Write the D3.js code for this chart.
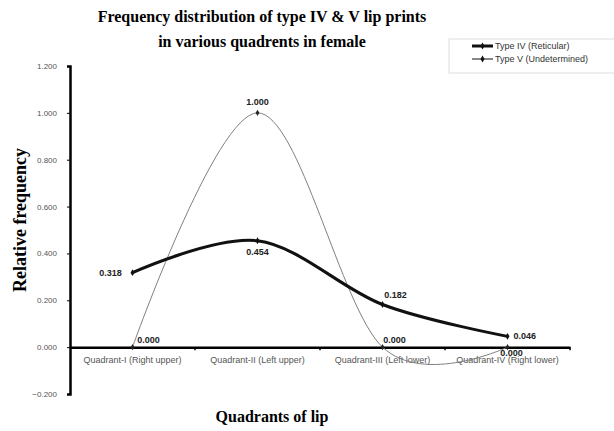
<!DOCTYPE html>
<html>
<head>
<meta charset="utf-8">
<script src="https://cdn.jsdelivr.net/npm/d3@7"></script>
<style>
body { margin: 0; background: #fff; }
</style>
</head>
<body>
<div class="chart"></div>
<script>
const width = 614;
const height = 431;

const quadrants = ['Quadrant-I (Right upper)', 'Quadrant-II (Left upper)', 'Quadrant-III (Left lower)', 'Quadrant-IV (Right lower)'];
const typeIV = [0.318, 0.454, 0.182, 0.046];
const typeV = [0.000, 1.000, 0.000, 0.000];
const yTicks = [-0.2, 0, 0.2, 0.4, 0.6, 0.8, 1.0, 1.2];
const seriesNames = ['Type IV (Reticular)', 'Type V (Undetermined)'];

const plotLeft = 70, plotRight = 570, plotTop = 66, plotBottom = 394;

const svg = d3.select('.chart')
	.append('svg')
	.attr('width', width)
	.attr('height', height)

const x = d3.scaleBand().domain(quadrants).range([plotLeft, plotRight])
const y = d3.scaleLinear().domain([-0.2, 1.2]).range([plotBottom, plotTop])

// title
svg.append('text')
	.attr('x', 262).attr('y', 22)
	.attr('text-anchor', 'middle')
	.style('font-family', 'Liberation Serif, Times New Roman, serif')
	.style('font-weight', 'bold')
	.style('font-size', '16px')
	.text('Frequency distribution of type IV & V lip prints')
svg.append('text')
	.attr('x', 262).attr('y', 47)
	.attr('text-anchor', 'middle')
	.style('font-family', 'Liberation Serif, Times New Roman, serif')
	.style('font-weight', 'bold')
	.style('font-size', '16px')
	.text('in various quadrents in female')

// y axis
const yAxis = svg.append('g')
	.attr('transform', 'translate(' + plotLeft + ',0)')
	.call(d3.axisLeft(y).tickValues(yTicks).tickFormat(d3.format('.3f')).tickSize(3).tickPadding(10))
yAxis.select('.domain').attr('stroke', '#000').attr('stroke-width', 2.5)
yAxis.selectAll('text')
	.style('font-family', 'Liberation Sans, Arial, sans-serif')
	.style('font-size', '8px')
	.attr('fill', '#555')

// x axis at zero
const xAxis = svg.append('g')
	.attr('transform', 'translate(0,' + y(0) + ')')
	.call(d3.axisBottom(x).tickSize(0).tickPadding(9))
xAxis.select('.domain').attr('stroke', '#000').attr('stroke-width', 2.5)
xAxis.selectAll('text')
	.style('font-family', 'Liberation Sans, Arial, sans-serif')
	.style('font-size', '9px')
	.attr('fill', '#555')
// category boundary ticks
const bounds = quadrants.map(q => x(q)).concat([x.range()[1]])
xAxis.selectAll('.bound')
	.data(bounds.slice(1))
	.enter()
	.append('line')
	.attr('x1', d => d).attr('x2', d => d)
	.attr('y1', 0).attr('y2', 3)
	.attr('stroke', '#000').attr('stroke-width', 1.5)

// axis titles
svg.append('text')
	.attr('transform', 'translate(26,220) rotate(-90)')
	.attr('text-anchor', 'middle')
	.style('font-family', 'Liberation Serif, Times New Roman, serif')
	.style('font-weight', 'bold')
	.style('font-size', '18px')
	.text('Relative frequency')
svg.append('text')
	.attr('x', 272).attr('y', 422)
	.attr('text-anchor', 'middle')
	.style('font-family', 'Liberation Serif, Times New Roman, serif')
	.style('font-weight', 'bold')
	.style('font-size', '16px')
	.text('Quadrants of lip')

const cx = (d, i) => x(quadrants[i]) + x.bandwidth() / 2
const line = d3.line().x(cx).y(d => y(d)).curve(d3.curveCardinal.tension(0))

// Type V (thin grey)
svg.append('path')
	.datum(typeV)
	.attr('d', line)
	.attr('fill', 'none')
	.attr('stroke', '#808080')
	.attr('stroke-width', 1)

// Type IV (thick black)
svg.append('path')
	.datum(typeIV)
	.attr('d', line)
	.attr('fill', 'none')
	.attr('stroke', '#111')
	.attr('stroke-width', 3)

// markers
svg.selectAll('.m4')
	.data(typeIV)
	.enter()
	.append('path')
	.attr('d', d3.symbol(d3.symbolDiamond, 14))
	.attr('transform', (d, i) => 'translate(' + cx(d, i) + ',' + y(d) + ')')
	.attr('fill', '#111')
svg.selectAll('.m5')
	.data(typeV)
	.enter()
	.append('path')
	.attr('d', d3.symbol(d3.symbolDiamond, 12))
	.attr('transform', (d, i) => 'translate(' + cx(d, i) + ',' + y(d) + ')')
	.attr('fill', '#222')

// data labels
const lab4 = [[-22, 3, 'middle'], [0, 14, 'middle'], [13, -7, 'middle'], [6, 3, 'start']]
const lab5 = [[16, -4, 'middle'], [0, -8, 'middle'], [12, -4, 'middle'], [4, 9, 'middle']]
svg.selectAll('.l4')
	.data(typeIV)
	.enter()
	.append('text')
	.attr('x', (d, i) => cx(d, i) + lab4[i][0])
	.attr('y', (d, i) => y(d) + lab4[i][1])
	.attr('text-anchor', (d, i) => lab4[i][2])
	.style('font-family', 'Liberation Sans, Arial, sans-serif')
	.style('font-size', '9px')
	.style('font-weight', 'bold')
	.attr('fill', '#222')
	.text(d => d3.format('.3f')(d))
svg.selectAll('.l5')
	.data(typeV)
	.enter()
	.append('text')
	.attr('x', (d, i) => cx(d, i) + lab5[i][0])
	.attr('y', (d, i) => y(d) + lab5[i][1])
	.attr('text-anchor', (d, i) => lab5[i][2])
	.style('font-family', 'Liberation Sans, Arial, sans-serif')
	.style('font-size', '9px')
	.style('font-weight', 'bold')
	.attr('fill', '#222')
	.text(d => d3.format('.3f')(d))

// legend
const lg = svg.append('g').attr('transform', 'translate(449,39)')
lg.append('rect')
	.attr('width', 166).attr('height', 34)
	.attr('fill', '#fff').attr('stroke', '#ddd')
seriesNames.forEach(function(name, i) {
	const ly = 7 + i * 13
	lg.append('line')
		.attr('x1', 23).attr('x2', 44).attr('y1', ly).attr('y2', ly)
		.attr('stroke', '#111').attr('stroke-width', i == 0 ? 3 : 1)
	lg.append('path')
		.attr('d', d3.symbol(d3.symbolDiamond, 14))
		.attr('transform', 'translate(33.5,' + ly + ')')
		.attr('fill', '#111')
	lg.append('text')
		.attr('x', 46).attr('y', ly + 3)
		.style('font-family', 'Liberation Sans, Arial, sans-serif')
		.style('font-size', '9px')
		.attr('fill', '#333')
		.text(name)
})
</script>
</body>
</html>
